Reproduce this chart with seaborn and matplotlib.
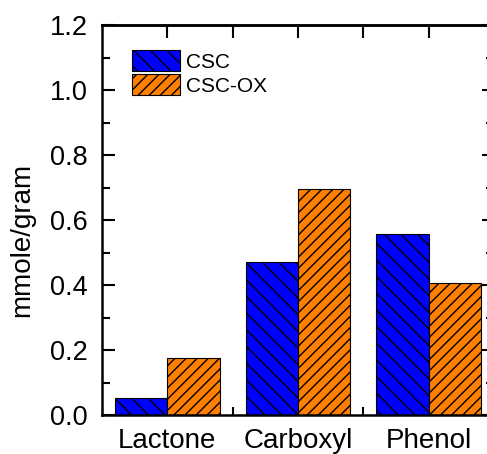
import numpy as np
import pandas as pd
import matplotlib
matplotlib.use('Agg')
import matplotlib.pyplot as plt
import seaborn as sns
from matplotlib.patches import Patch
from matplotlib.ticker import MultipleLocator

groups = ['Lactone', 'Carboxyl', 'Phenol']
csc = [0.051, 0.470, 0.556]
csc_ox = [0.174, 0.696, 0.405]
series = ['CSC', 'CSC-OX']
colors = ['#0000FF', '#FF8000']
hatches = ['\\\\', '///']

sns.set_style('ticks', {'text.color': 'black', 'axes.labelcolor': 'black',
                        'xtick.color': 'black', 'ytick.color': 'black',
                        'axes.edgecolor': 'black'})
plt.rcParams['font.family'] = ['Liberation Sans', 'DejaVu Sans']
plt.rcParams['hatch.linewidth'] = 1.0

df = pd.DataFrame({
    'group': groups * 2,
    'value': csc + csc_ox,
    'sample': [series[0]] * 3 + [series[1]] * 3,
})

fig = plt.figure(figsize=(4.87, 4.54), dpi=100)
ax = fig.add_axes([0.2094, 0.0859, 0.8049, 0.859])

sns.barplot(data=df, x='group', y='value', hue='sample', palette=colors,
            width=0.8, saturation=1, edgecolor='black', linewidth=0.8,
            legend=False, ax=ax)

# hatch each series like the original
for cont, h in zip(ax.containers, hatches):
    for bar in cont:
        bar.set_hatch(h)

ax.set_xlim(-0.5, 2.5)
ax.set_ylim(0, 1.2)
ax.yaxis.set_major_locator(MultipleLocator(0.2))
ax.yaxis.set_minor_locator(MultipleLocator(0.1))
ax.yaxis.set_major_formatter(plt.FuncFormatter(lambda v, p: f'{v:.1f}'))
ax.set_xticks([0, 1, 2], groups)
ax.set_xticks([0.5, 1.5], minor=True)

ax.tick_params(axis='y', which='both', direction='in', left=True, right=True,
               labelsize=19.5, pad=10, width=1.5, colors='black')
ax.tick_params(axis='y', which='major', length=9)
ax.tick_params(axis='y', which='minor', length=5.5)
ax.tick_params(axis='x', which='major', length=0, labelsize=20, pad=9,
               colors='black')
ax.tick_params(axis='x', which='minor', direction='in', length=6, width=1.5,
               colors='black')

top = ax.secondary_xaxis('top')
top.set_xticks([0, 0.5, 1, 1.5, 2])
top.tick_params(direction='in', length=9, width=1.5, labeltop=False,
                colors='black')
top.spines['top'].set_linewidth(1.8)

for s in ax.spines.values():
    s.set_visible(True)
    s.set_linewidth(1.8)
    s.set_color('black')

ax.set_xlabel('')
ax.set_ylabel('mmole/gram', fontsize=20, va='center', color='black')
ax.yaxis.set_label_coords(-0.204, 0.449)

handles = [Patch(facecolor=c, edgecolor='black', hatch=h, linewidth=0.8)
           for c, h in zip(colors, hatches)]
ax.legend(handles, series, loc='upper left', bbox_to_anchor=(0.077, 0.935),
          frameon=False, fontsize=15, handlelength=2.3, handleheight=1.15,
          handletextpad=0.3, labelspacing=0.12, borderpad=0, borderaxespad=0,
          labelcolor='black')

fig.savefig('out.png', dpi=100)
